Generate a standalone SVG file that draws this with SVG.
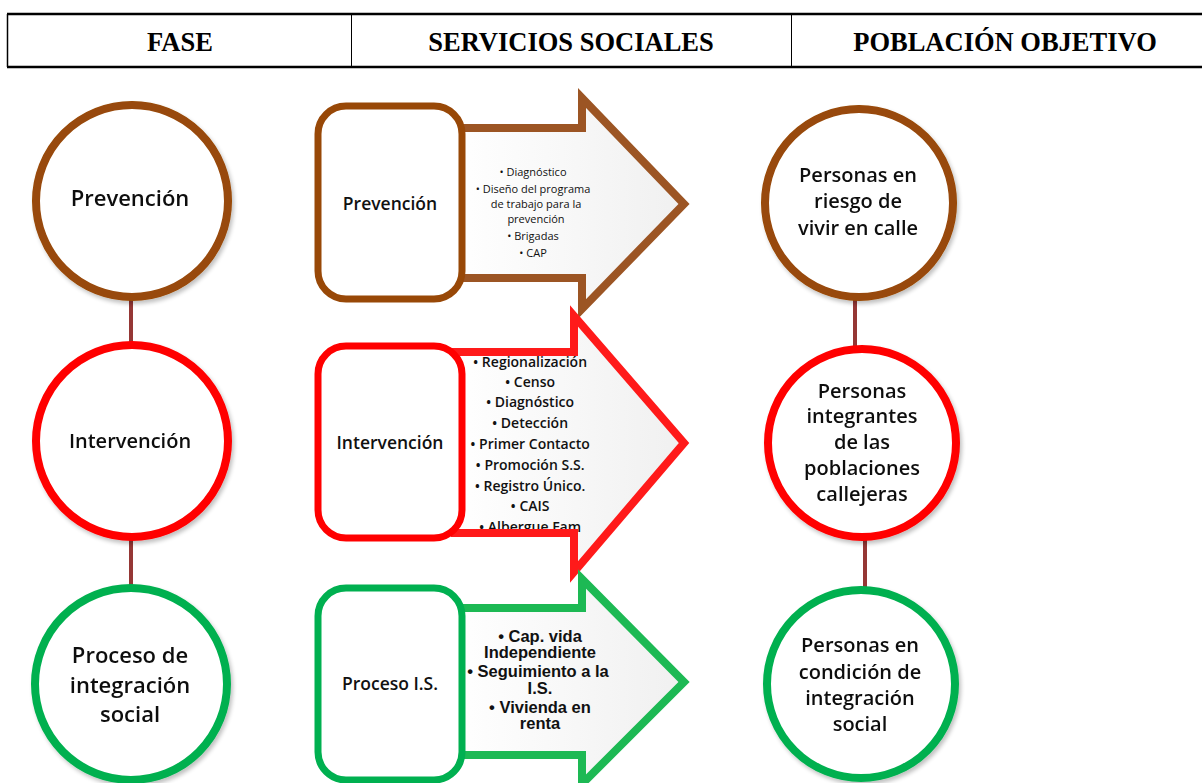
<svg xmlns="http://www.w3.org/2000/svg" width="1202" height="783" viewBox="0 0 1202 783">
<defs>
<linearGradient id="ag" x1="0" y1="0" x2="1" y2="0">
<stop offset="0" stop-color="#ffffff"/>
<stop offset="1" stop-color="#f0f0f0"/>
</linearGradient>
<filter id="sh" x="-10%" y="-10%" width="125%" height="125%">
<feGaussianBlur in="SourceAlpha" stdDeviation="2"/>
<feOffset dx="2" dy="3"/>
<feComponentTransfer><feFuncA type="linear" slope="0.25"/></feComponentTransfer>
<feMerge><feMergeNode/><feMergeNode in="SourceGraphic"/></feMerge>
</filter>
</defs>
<style>
.hdr{font-family:"Liberation Serif",serif;font-weight:bold;font-size:26.5px;text-anchor:middle;fill:#000}
.cl{font-family:"Open Sans",sans-serif;font-weight:600;font-size:22px;text-anchor:middle;fill:#111}
.ci{font-family:"Open Sans",sans-serif;font-weight:600;font-size:20px;text-anchor:middle;fill:#111}
.rl{font-family:"Open Sans",sans-serif;font-weight:600;font-size:20px;text-anchor:middle;fill:#111}
.bl{font-family:"Open Sans",sans-serif;font-weight:600;font-size:17.5px;text-anchor:middle;fill:#111}
.s1{font-family:"Open Sans",sans-serif;font-size:11px;text-anchor:middle;fill:#111}
.s2{font-family:"Open Sans",sans-serif;font-weight:600;font-size:14px;text-anchor:middle;fill:#111}
.s3{font-family:"Liberation Sans",Arial,sans-serif;font-weight:bold;font-size:16.5px;text-anchor:middle;fill:#111}
.circ{fill:#fff;stroke-width:8}
.box{fill:#fff;stroke-width:7}
.arw{stroke-width:8;stroke-linejoin:miter}
.brown{stroke:#984807}
.red{stroke:#ff0000}
.green{stroke:#00b050}
.conn{stroke:#953735;stroke-width:4}
</style>
<rect width="1202" height="783" fill="#fff"/>
<g id="header">
<line x1="7" y1="14" x2="1202" y2="14" stroke="#000" stroke-width="2.5"/>
<line x1="7" y1="67" x2="1202" y2="67" stroke="#000" stroke-width="2.5"/>
<line x1="7.5" y1="14" x2="7.5" y2="67" stroke="#000" stroke-width="1.5"/>
<line x1="351.5" y1="14" x2="351.5" y2="67" stroke="#000" stroke-width="1"/>
<line x1="791.5" y1="14" x2="791.5" y2="67" stroke="#000" stroke-width="1"/>
<text class="hdr" x="180" y="51">FASE</text>
<text class="hdr" x="571" y="51">SERVICIOS SOCIALES</text>
<text class="hdr" x="1005" y="51">POBLACIÓN OBJETIVO</text>
</g>
<g id="connectors">
<line class="conn" x1="131" y1="300" x2="131" y2="345"/>
<line class="conn" x1="131" y1="540" x2="131" y2="589"/>
<line class="conn" x1="855" y1="298" x2="855" y2="350"/>
<line class="conn" x1="865" y1="538" x2="865" y2="591"/>
</g>
<g id="fase-prevencion" filter="url(#sh)">
<circle class="circ brown" cx="132" cy="201" r="96"/>
<text class="cl" x="130" y="206">Prevención</text>
</g>
<g id="fase-intervencion" filter="url(#sh)">
<circle class="circ red" cx="132" cy="441" r="96"/>
<text class="ci" x="130" y="448">Intervención</text>
</g>
<g id="fase-proceso" filter="url(#sh)">
<circle class="circ green" cx="131" cy="684" r="96"/>
<text class="cl" x="130" y="663">Proceso de</text>
<text class="cl" x="130" y="693">integración</text>
<text class="cl" x="130" y="722">social</text>
</g>
<g id="servicio-prevencion">
<path d="M455,128 L582,128 L582,98 L684,204 L582,309 L582,278 L455,278 Z" fill="url(#ag)"/>
<text class="s1" x="533" y="176">• Diagnóstico</text>
<text class="s1" x="533" y="193">• Diseño del programa</text>
<text class="s1" x="536" y="208">de trabajo para la</text>
<text class="s1" x="536" y="223">prevención</text>
<text class="s1" x="533" y="240">• Brigadas</text>
<text class="s1" x="533" y="257">• CAP</text>
<path class="arw" d="M455,128 L582,128 L582,98 L684,204 L582,309 L582,278 L455,278 Z" fill="none" stroke="#9c5524"/>
<rect class="box brown" x="318" y="106" width="144" height="193" rx="28"/>
<text class="bl" x="390" y="210">Prevención</text>
</g>
<g id="servicio-intervencion">
<path d="M455,352 L574,352 L574,316 L684,443 L574,572 L574,533 L455,533 Z" fill="url(#ag)"/>
<text class="s2" x="530" y="367">• Regionalización</text>
<text class="s2" x="530" y="387">• Censo</text>
<text class="s2" x="530" y="407">• Diagnóstico</text>
<text class="s2" x="530" y="428">• Detección</text>
<text class="s2" x="530" y="449">• Primer Contacto</text>
<text class="s2" x="530" y="470">• Promoción S.S.</text>
<text class="s2" x="530" y="491">• Registro Único.</text>
<text class="s2" x="530" y="511">• CAIS</text>
<text class="s2" x="530" y="532">• Albergue Fam</text>
<path class="arw" d="M455,352 L574,352 L574,316 L684,443 L574,572 L574,533 L455,533 Z" fill="none" stroke="#ff1a1a"/>
<rect class="box red" x="318" y="346" width="144" height="192" rx="28"/>
<text class="bl" x="390" y="449">Intervención</text>
</g>
<g id="servicio-proceso">
<path d="M455,608 L582,608 L582,579 L684,682 L582,784 L582,755 L455,755 Z" fill="url(#ag)"/>
<text class="s3" x="540" y="642">• Cap. vida</text>
<text class="s3" x="540" y="658">Independiente</text>
<text class="s3" x="538" y="677">• Seguimiento a la</text>
<text class="s3" x="540" y="694">I.S.</text>
<text class="s3" x="540" y="713">• Vivienda en</text>
<text class="s3" x="540" y="729">renta</text>
<path class="arw" d="M455,608 L582,608 L582,579 L684,682 L582,784 L582,755 L455,755 Z" fill="none" stroke="#1db954"/>
<rect class="box green" x="318" y="588" width="144" height="192" rx="28"/>
<text class="bl" x="390" y="690">Proceso I.S.</text>
</g>
<g id="pob-riesgo" filter="url(#sh)">
<circle class="circ brown" cx="859" cy="203" r="94"/>
<text class="rl" x="858" y="182">Personas en</text>
<text class="rl" x="858" y="208">riesgo de</text>
<text class="rl" x="858" y="235">vivir en calle</text>
</g>
<g id="pob-callejeras" filter="url(#sh)">
<circle class="circ red" cx="862" cy="443" r="94"/>
<text class="rl" x="862" y="398">Personas</text>
<text class="rl" x="862" y="423">integrantes</text>
<text class="rl" x="862" y="449">de las</text>
<text class="rl" x="862" y="475">poblaciones</text>
<text class="rl" x="862" y="501">callejeras</text>
</g>
<g id="pob-integracion" filter="url(#sh)">
<circle class="circ green" cx="861" cy="684" r="94"/>
<text class="rl" x="860" y="652">Personas en</text>
<text class="rl" x="860" y="679">condición de</text>
<text class="rl" x="860" y="705">integración</text>
<text class="rl" x="860" y="731">social</text>
</g>
</svg>
